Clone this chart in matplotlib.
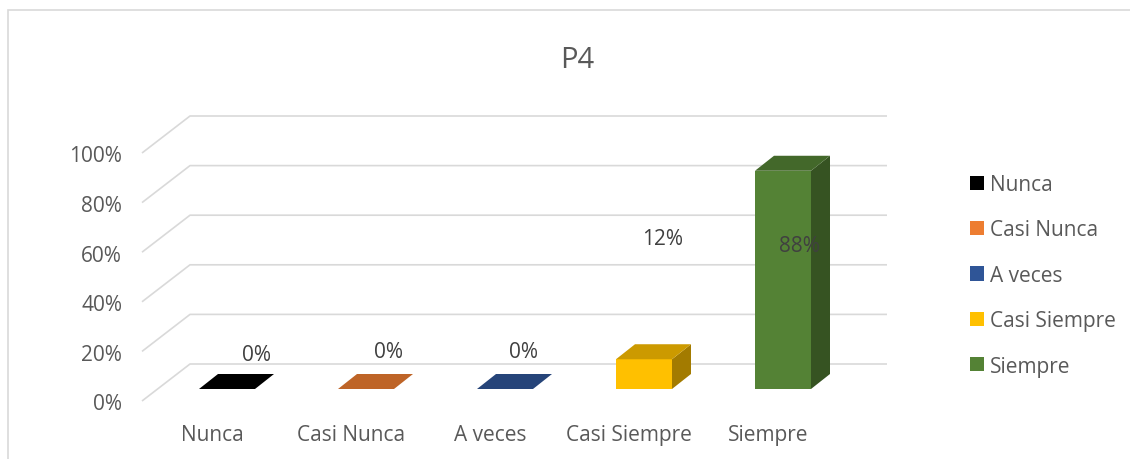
import matplotlib.pyplot as plt
from matplotlib.patches import Polygon, Rectangle, Patch
from matplotlib.colors import to_rgb

# data
categories = ["Nunca", "Casi Nunca", "A veces", "Casi Siempre", "Siempre"]
values = [0, 0, 0, 12, 88]
value_labels = ["0%", "0%", "0%", "12%", "88%"]
colors = ["#000000", "#ED7D31", "#2F5597", "#FFC000", "#548235"]
ticks = [0, 20, 40, 60, 80, 100]
tick_labels = ["0%", "20%", "40%", "60%", "80%", "100%"]

# layout (pixel based, 1130x460 canvas)
W, H = 1130, 460
PX_CAT = 139.0      # px per category
PX_PCT = 2.48       # px per percent
X0, Y0 = 227, 390   # pixel of first bar centre / bar baseline

def dx(px):
    return px / PX_CAT

def dy(px):
    return px / PX_PCT

def shade(c, f):
    r, g, b = to_rgb(c)
    return (r * f, g * f, b * f)

plt.rcParams["font.family"] = ["Open Sans", "DejaVu Sans"]
txt = "#595959"
grid_c = "#D9D9D9"

fig = plt.figure(figsize=(W / 100, H / 100), dpi=100)
ax = fig.add_axes([0, 0, 1, 1])
ax.set_xlim(-X0 / PX_CAT, (W - X0) / PX_CAT)
ax.set_ylim(-(H - Y0) / PX_PCT, Y0 / PX_PCT)
ax.axis("off")

# chart frame
fig.patches.append(Rectangle((8 / W, -0.1), 1.2, 1.1 - 11 / H,
                             transform=fig.transFigure, fill=False,
                             edgecolor=grid_c, linewidth=1.2))

# back wall gridlines with oblique floor segment
back_up = dy(25)
front_down = dy(12)
x_back0, x_back1 = dx(190 - X0), dx(887 - X0)
x_front = dx(142 - X0)
for t, lab in zip(ticks, tick_labels):
    ax.plot([x_front, x_back0, x_back1], [t - front_down, t + back_up, t + back_up],
            color=grid_c, lw=1.2, zorder=1, solid_capstyle="butt")
    ax.text(dx(122 - X0), t - front_down - dy(3), lab, ha="right", va="center",
            fontsize=15, color=txt)

# 3d bars
bw = dx(56)
ddx, ddy = dx(19), dy(15)
for i, (v, c) in enumerate(zip(values, colors)):
    l, r = i - bw / 2, i + bw / 2
    top = [(l, v), (r, v), (r + ddx, v + ddy), (l + ddx, v + ddy)]
    if v > 0:
        ax.add_patch(Rectangle((l, 0), bw, v, facecolor=c, edgecolor="none", zorder=3))
        side = [(r, 0), (r + ddx, ddy), (r + ddx, v + ddy), (r, v)]
        ax.add_patch(Polygon(side, closed=True, facecolor=shade(c, 0.64),
                             edgecolor="none", zorder=3))
    ax.add_patch(Polygon(top, closed=True, facecolor=shade(c, 0.8),
                         edgecolor="none", zorder=3))

# data labels (Excel puts them in odd spots)
lab_dx = [29, 22, 18, 19, 16]
lab_y = [14.0, 15.0, 15.0, 60.5, 58.0]
for i, s in enumerate(value_labels):
    ax.text(i + dx(lab_dx[i]), lab_y[i], s, ha="center", va="center",
            fontsize=15, color="#404040", zorder=5)

# category labels
for i, cat in enumerate(categories):
    ax.text(i - dx(15), -dy(46), cat, ha="center", va="center",
            fontsize=15, color=txt)

fig.text(577 / W, 1 - 60 / H, "P4", ha="center", va="center", fontsize=21, color=txt)

handles = [Patch(facecolor=c, edgecolor="none") for c in colors]
leg = fig.legend(handles, categories, loc="upper left",
                 bbox_to_anchor=(970 / W, 1 - 175 / H), frameon=False,
                 fontsize=15, handlelength=0.67, handleheight=0.67,
                 handletextpad=0.3, labelspacing=1.17, borderpad=0,
                 borderaxespad=0)
for t in leg.get_texts():
    t.set_color(txt)

fig.savefig("out.png", dpi=100)
